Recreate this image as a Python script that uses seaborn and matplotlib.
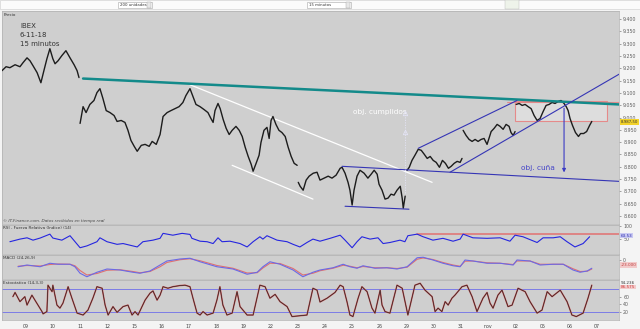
import numpy as np
import pandas as pd
import matplotlib
matplotlib.use("Agg")
import matplotlib.pyplot as plt
import matplotlib.transforms as mtrans
from matplotlib.patches import Rectangle
import seaborn as sns

sns.set_style("white")
plt.rcParams["font.family"] = ["DejaVu Sans"]

# ---------------- data (x = trading-day index, 0 = 09 oct) ----------------
day_labels = ["09", "10", "11", "12", "15", "16", "17", "18", "19", "22", "23",
              "24", "25", "26", "29", "30", "31", "nov", "02", "05", "06", "07"]
price_ticks = list(range(8600, 9401, 50))
session_breaks = [2.0, 10.0, 14.0, 16.06, 18.01]

price_day = [
    -0.87, -0.72, -0.58, -0.39, -0.21, -0.10, 0.05, 0.16, 0.27, 0.42, 0.56, 0.67, 0.78, 0.89, 1.00, 1.08, 1.19, 1.33, 1.48, 1.63, 1.78, 1.89, 1.96,
    2.00, 2.11, 2.22, 2.36, 2.51, 2.62, 2.73, 2.84, 2.96, 3.10,
    3.25, 3.36, 3.51, 3.65, 3.76, 3.87, 3.99, 4.10, 4.25, 4.39,
    4.54, 4.65, 4.80, 4.94, 5.05, 5.20, 5.34, 5.49, 5.64, 5.78,
    5.89, 6.04, 6.15, 6.26, 6.41, 6.56, 6.70, 6.81, 6.89, 6.96,
    7.07, 7.15, 7.26, 7.37, 7.48, 7.59, 7.73, 7.85, 7.96, 8.07,
    8.18, 8.29, 8.36, 8.47, 8.58, 8.65, 8.76, 8.87, 8.95, 9.02,
    9.09, 9.20, 9.31, 9.42, 9.54, 9.65, 9.76, 9.87, 9.98,
    10.02, 10.09, 10.20, 10.31, 10.42, 10.57, 10.71, 10.82, 10.97, 11.12,
    11.26, 11.41, 11.56, 11.63, 11.74, 11.85, 11.92, 12.00, 12.07, 12.18,
    12.29, 12.44, 12.58, 12.70, 12.81, 12.92, 12.99, 13.10, 13.21, 13.32,
    13.43, 13.54, 13.65, 13.77, 13.84, 13.88, 13.95,
    14.02, 14.10, 14.20, 14.31, 14.43, 14.54, 14.65, 14.76, 14.87, 14.98,
    15.09, 15.21, 15.32, 15.43, 15.54, 15.64, 15.75, 15.86, 15.97, 16.04,
    16.08, 16.19, 16.30, 16.41, 16.52, 16.63, 16.74, 16.85, 16.96, 17.03,
    17.11, 17.22, 17.33, 17.44, 17.55, 17.66, 17.77, 17.84, 17.92, 17.99,
    18.03, 18.14, 18.25, 18.36, 18.47, 18.58, 18.69, 18.80, 18.91, 19.02,
    19.13, 19.24, 19.35, 19.46, 19.57, 19.68, 19.79, 19.87, 19.94, 20.01,
    20.10, 20.21, 20.32, 20.40, 20.51, 20.62, 20.73, 20.81]
price_val = [
    9190, 9206, 9202, 9214, 9206, 9222, 9242, 9230, 9210, 9182, 9141, 9190, 9238, 9279, 9238, 9218, 9230, 9251, 9271, 9242, 9214, 9190, 9162,
    8976, 9044, 9020, 9053, 9069, 9101, 9117, 9077, 9028, 9020,
    9008, 8984, 8988, 8980, 8948, 8907, 8883, 8863, 8887, 8891,
    8883, 8903, 8891, 8931, 9004, 9020, 9028, 9036, 9044, 9061,
    9089, 9117, 9085, 9053, 9044, 9032, 9020, 8996, 8980, 9028,
    9057, 9036, 8992, 8956, 8931, 8948, 8964, 8948, 8923, 8879,
    8842, 8810, 8782, 8814, 8847, 8899, 8948, 8960, 8915, 8988,
    9004, 8972, 8948, 8939, 8923, 8879, 8842, 8814, 8806,
    8737, 8721, 8705, 8746, 8762, 8774, 8778, 8746, 8754, 8762,
    8754, 8766, 8794, 8798, 8774, 8737, 8705, 8645, 8705, 8762,
    8786, 8774, 8754, 8770, 8786, 8770, 8729, 8705, 8669, 8673,
    8689, 8685, 8705, 8721, 8673, 8632, 8681,
    8786, 8798, 8826, 8847, 8871, 8867, 8851, 8834, 8842, 8826,
    8818, 8798, 8826, 8814, 8794, 8802, 8814, 8822, 8818, 8834,
    8948, 8927, 8911, 8903, 8911, 8903, 8911, 8915, 8891, 8915,
    8943, 8956, 8972, 8964, 8952, 8972, 8964, 8939, 8927, 8943,
    9053, 9057, 9049, 9053, 9044, 9036, 9008, 8988, 8996, 9024,
    9049, 9053, 9061, 9057, 9065, 9069, 9057, 9044, 9028, 8996,
    8968, 8939, 8923, 8935, 8935, 8943, 8968, 8984]

rsi_day = [-0.58, -0.21, 0.05, 0.27, 0.53, 0.89, 1.00, 1.33, 1.63, 2.00, 2.25, 2.62, 2.73, 2.99, 3.36, 3.58,
           4.10, 4.31, 4.68, 4.94, 5.05, 5.41, 5.75, 6.04, 6.11, 6.41, 6.67, 6.89, 7.07, 7.22, 7.51, 7.88,
           8.14, 8.36, 8.61, 8.72, 8.87, 9.24, 9.61, 9.83, 10.08, 10.34, 10.56, 10.82, 11.19, 11.56, 11.74,
           12.00, 12.18, 12.36, 12.66, 12.95, 13.14, 13.39, 13.76, 13.94, 14.05, 14.39, 14.61, 14.97, 15.34,
           15.71, 15.97, 16.08, 16.44, 16.96, 17.44, 17.80, 17.99, 18.28, 18.80, 19.02, 19.39, 19.65, 19.90,
           20.19, 20.49, 20.73]
rsi_val = [40, 50, 55, 46, 54, 69, 54, 46, 63, 17, 24, 40, 55, 40, 30, 33,
           20, 40, 46, 53, 72, 65, 72, 68, 53, 42, 40, 33, 55, 40, 42, 33,
           20, 40, 59, 50, 63, 46, 40, 30, 20, 37, 50, 42, 53, 65, 46,
           17, 40, 59, 50, 55, 33, 37, 46, 40, 63, 69, 59, 46, 53,
           42, 50, 69, 55, 53, 55, 42, 65, 59, 37, 55, 55, 59, 40,
           20, 33, 59]
rsi_level = 70

macd_day = [-0.28, 0.05, 0.53, 0.89, 1.19, 1.63, 1.81, 2.00, 2.25, 2.62, 2.99, 3.47, 3.94, 4.20, 4.57,
            4.94, 5.19, 5.67, 6.04, 6.41, 7.03, 7.62, 8.14, 8.51, 8.72, 8.98, 9.35, 9.83, 10.19, 10.56,
            10.82, 11.30, 11.67, 11.92, 12.18, 12.40, 12.84, 13.28, 13.65, 14.02, 14.39, 14.61, 14.97,
            15.34, 15.71, 15.97, 16.15, 16.44, 16.96, 17.44, 17.92, 18.06, 18.54, 18.91, 19.39, 19.76,
            20.12, 20.38, 20.64, 20.81]
macd_val = [-27, -20, -27, -13, -17, -17, -27, -53, -67, -49, -36, -40, -49, -53, -44,
            -20, -4, 4, 7, -7, -27, -36, -57, -49, -27, -7, -17, -40, -67, -49,
            -40, -31, -17, -27, -33, -23, -33, -31, -36, -27, 9, 11, 0,
            -13, -23, -27, 0, -4, -13, -13, -20, 0, -4, -20, -17, -17,
            -40, -49, -44, -33]
signal_val = [-25, -22, -24, -18, -16, -17, -23, -42, -60, -54, -41, -39, -46, -51, -46,
              -27, -10, 1, 5, -3, -22, -33, -52, -51, -32, -13, -14, -34, -60, -53,
              -43, -33, -21, -25, -31, -26, -31, -31, -34, -29, 3, 8, 2,
              -10, -20, -25, -5, -4, -11, -13, -18, -4, -4, -17, -17, -17,
              -35, -46, -45, -36]

stoch_day = [-0.47, -0.39, -0.21, -0.03, 0.05, 0.23, 0.34, 0.60, 0.64, 0.78,
             0.82, 0.97, 1.00, 1.15, 1.26, 1.37, 1.56, 1.70, 1.89, 2.11,
             2.29, 2.47, 2.62, 2.81, 2.92, 3.03, 3.21, 3.36, 3.58, 3.76,
             3.91, 4.02, 4.13, 4.39, 4.57, 4.68, 4.83, 4.94, 5.05, 5.23,
             5.41, 5.67, 5.86, 6.04, 6.15, 6.30, 6.41, 6.52, 6.67, 6.89,
             7.03, 7.14, 7.25, 7.40, 7.59, 7.77, 7.88, 8.14, 8.36, 8.61,
             8.80, 8.98, 9.17, 9.35, 9.61, 9.79, 10.08, 10.34, 10.56, 10.71,
             10.82, 11.08, 11.37, 11.56, 11.67, 11.81, 11.92, 12.03, 12.22, 12.36,
             12.55, 12.73, 12.84, 13.03, 13.10, 13.21, 13.39, 13.65, 13.84, 14.05,
             14.31, 14.50, 14.68, 14.94, 15.05, 15.16, 15.30, 15.42, 15.53, 15.67,
             15.78, 16.04, 16.22, 16.41, 16.59, 16.81, 16.96, 17.07, 17.18, 17.36,
             17.51, 17.62, 17.73, 17.88, 18.10, 18.36, 18.54, 18.80, 18.98, 19.17,
             19.35, 19.65, 19.90, 20.08, 20.24, 20.49, 20.67, 20.81]
stoch_val = [60, 71, 47, 60, 38, 64, 51, 21, 15, 21,
             90, 73, 90, 38, 30, 43, 86, 56, 17, 12,
             25, 56, 86, 82, 38, 12, 34, 19, 34, 38,
             12, 21, 12, 51, 69, 75, 51, 64, 86, 82,
             86, 89, 90, 86, 56, 17, 12, 21, 12, 17,
             51, 86, 38, 12, 17, 73, 34, 12, 12, 90,
             86, 56, 66, 47, 34, 8, 10, 12, 82, 77,
             46, 56, 71, 90, 86, 47, 12, 8, 56, 86,
             73, 30, 17, 77, 38, 21, 17, 90, 82, 12,
             90, 95, 77, 60, 21, 30, 21, 47, 38, 56,
             64, 86, 90, 60, 21, 56, 71, 43, 30, 64,
             77, 56, 34, 38, 82, 73, 47, 17, 25, 73,
             60, 77, 47, 12, 8, 17, 56, 90]
stoch_levels = [20, 80]

# drawn trend lines (day, price)
teal_day, teal_val = [2.11, 21.81], [9158, 9053]
white_up_day, white_up_val = [6.04, 14.94], [9133, 8737]
white_lo_day, white_lo_val = [7.59, 10.56], [8806, 8669]
wedge_day, wedge_val = [11.63, 21.81], [8802, 8741]
flag_lo_day, flag_lo_val = [11.74, 14.09], [8640, 8628]
chan_up_day, chan_up_val = [14.43, 18.06], [8875, 9069]
chan_lo_day, chan_lo_val = [15.60, 21.85], [8778, 9178]
box_day, box_val = [17.99, 21.37], [8984, 9065]
box_top_day = [17.70, 21.81]
target_up_day, target_up_val = 13.94, [8693, 8943, 9020]
target_dn_day, target_dn_val = 19.79, [9049, 8766]
last_price, last_rsi, last_macd = 8987, 63.53, -23.0

# ---------------- figure ----------------
W, H = 640, 329
fig = plt.figure(figsize=(6.4, 3.29), dpi=100, facecolor="#f4f4f4")


def rect(x0, y0, x1, y1):
    return [x0 / W, 1 - y1 / H, (x1 - x0) / W, (y1 - y0) / H]


BG = "#cfcfcf"
ax_p = fig.add_axes(rect(2, 11, 619, 224))
ax_r = fig.add_axes(rect(2, 225, 619, 254), sharex=ax_p)
ax_m = fig.add_axes(rect(2, 255, 619, 279), sharex=ax_p)
ax_s = fig.add_axes(rect(2, 280, 619, 320), sharex=ax_p)

for ax in (ax_p, ax_r, ax_m, ax_s):
    ax.set_facecolor(BG)
    for sp in ax.spines.values():
        sp.set_color("#b0b0b0")
        sp.set_linewidth(0.5)
    ax.yaxis.tick_right()
    ax.tick_params(axis="y", labelsize=3.4, colors="#606060", length=1.5, width=0.4, pad=1.5)
    ax.tick_params(axis="x", length=0, labelbottom=False)

# ---- price panel ----
pdf = pd.DataFrame({"day": price_day, "price": price_val})
pdf["session"] = np.searchsorted(session_breaks, pdf["day"], side="right")

ax_p.add_patch(Rectangle((box_day[0], box_val[0]), box_day[1] - box_day[0], box_val[1] - box_val[0],
                         facecolor="#dddddd", edgecolor="#e58a8a", lw=0.8, zorder=1))
ax_p.plot(box_top_day, [box_val[1] - 3] * 2, color="#e58a8a", lw=0.8, zorder=1)

sns.lineplot(data=pdf, x="day", y="price", units="session", estimator=None,
             color="#1c1c1c", lw=1.0, ax=ax_p, legend=False, zorder=3)

ax_p.plot(teal_day, teal_val, color="#138a8a", lw=1.8, zorder=4)
ax_p.plot(white_up_day, white_up_val, color="white", lw=0.9, zorder=2)
ax_p.plot(white_lo_day, white_lo_val, color="white", lw=0.9, zorder=2)
for d, v in ((wedge_day, wedge_val), (flag_lo_day, flag_lo_val),
             (chan_up_day, chan_up_val), (chan_lo_day, chan_lo_val)):
    ax_p.plot(d, v, color="#3535b5", lw=0.8, zorder=4)

# dotted target arrow (obj. cumplidos)
ax_p.plot([target_up_day] * 2, [target_up_val[0], target_up_val[2]], color="#e4e4f6",
          lw=0.6, ls=(0, (1.5, 1.5)), zorder=4)
ax_p.plot([target_up_day] * 2, target_up_val[1:], ls="none", marker="^", ms=3.2,
          mfc="none", mec="#e4e4f6", mew=0.6, zorder=5)
ax_p.text(12.03, 9022, "obj. cumplidos", fontsize=5.3, color="white", va="center", ha="left")

# solid target arrow (obj. cuña)
ax_p.annotate("", xy=(target_dn_day, target_dn_val[1]), xytext=(target_dn_day, target_dn_val[0]),
              arrowprops=dict(arrowstyle="-|>", color="#3a3ac4", lw=0.8, mutation_scale=5), zorder=5)
ax_p.text(18.21, 8794, "obj. cuña", fontsize=5.3, color="#4545c8", va="center", ha="left")

ax_p.text(0.029, 0.93, "IBEX", transform=ax_p.transAxes, fontsize=5, color="#333333", va="center")
ax_p.text(0.029, 0.887, "6-11-18", transform=ax_p.transAxes, fontsize=5, color="#333333", va="center")
ax_p.text(0.029, 0.845, "15 minutos", transform=ax_p.transAxes, fontsize=5, color="#333333", va="center")
ax_p.text(0.002, 0.99, "Precio", transform=ax_p.transAxes, fontsize=3, color="#333333", va="top")
ax_p.text(0.002, 0.005, "© IT-Finance.com. Datos recibidos en tiempo real", transform=ax_p.transAxes,
          fontsize=3, color="#444444", va="bottom", style="italic")

ax_p.set_ylim(8568, 9432)
ax_p.set_yticks(price_ticks)
ax_p.set_yticklabels([f"{v // 1000}.{v % 1000:03d}" for v in price_ticks])
tr_p = mtrans.blended_transform_factory(ax_p.transAxes, ax_p.transData)
ax_p.text(1.003, last_price - 6, "8.987,50", transform=tr_p, fontsize=2.8, color="#333333",
          va="center", ha="left", bbox=dict(fc="#f2d22a", ec="none", pad=0.5), clip_on=False)

# ---- RSI panel ----
sns.lineplot(x=rsi_day, y=rsi_val, color="#2525e0", lw=0.8, ax=ax_r, estimator=None)
ax_r.plot([14.39, 21.81], [rsi_level, rsi_level], color="#e07878", lw=1.2, zorder=1)
ax_r.set_ylim(-7, 104)
ax_r.set_yticks([50, 100])
ax_r.set_yticklabels(["50", "100"])
tr_r = mtrans.blended_transform_factory(ax_r.transAxes, ax_r.transData)
ax_r.text(1.003, last_rsi, f"{last_rsi:.2f}", transform=tr_r, fontsize=3.0, color="#3030b0",
          va="center", ha="left", bbox=dict(fc="#c9c9f2", ec="none", pad=0.5), clip_on=False)
ax_r.text(0.002, 0.96, "RSI - Fuerza Relativa (Indice) (14)", transform=ax_r.transAxes,
          fontsize=3, color="#333333", va="top")

# ---- MACD panel ----
sns.lineplot(x=macd_day, y=signal_val, color="#e07070", lw=0.8, ax=ax_m, estimator=None)
sns.lineplot(x=macd_day, y=macd_val, color="#6a6ae6", lw=0.8, ax=ax_m, estimator=None)
ax_m.set_ylim(-76, 20)
ax_m.set_yticks([0])
ax_m.set_yticklabels(["0"])
tr_m = mtrans.blended_transform_factory(ax_m.transAxes, ax_m.transData)
ax_m.text(1.003, -20, "-23.000", transform=tr_m, fontsize=3.0, color="#c04040",
          va="center", ha="left", bbox=dict(fc="#f2caca", ec="none", pad=0.5), clip_on=False)
ax_m.text(0.002, 0.96, "MACD (24,26,9)", transform=ax_m.transAxes, fontsize=3, color="#333333", va="top")

# ---- Stochastic panel ----
for lv in stoch_levels:
    ax_s.axhline(lv, color="#7c7ce6", lw=0.7, zorder=1)
sns.lineplot(x=stoch_day, y=stoch_val, color="#d06060", lw=1.1, ax=ax_s, estimator=None)
sns.lineplot(x=stoch_day, y=stoch_val, color="#2a2020", lw=0.5, ax=ax_s, estimator=None)
ax_s.set_ylim(-1, 103.5)
ax_s.set_yticks([20, 40, 60])
ax_s.set_yticklabels(["20", "40", "60"])
tr_s = mtrans.blended_transform_factory(ax_s.transAxes, ax_s.transData)
ax_s.text(1.003, 96, "94.236", transform=tr_s, fontsize=3.0, color="#333333", va="center", ha="left",
          clip_on=False)
ax_s.text(1.003, 85, "86.575", transform=tr_s, fontsize=3.0, color="#d04040", va="center", ha="left",
          bbox=dict(fc="#f2caca", ec="none", pad=0.3), clip_on=False)
ax_s.text(0.002, 0.97, "Estocástico (14,3,3)", transform=ax_s.transAxes, fontsize=3, color="#333333", va="top")
ax_s.set_xticks(range(len(day_labels)))
ax_s.set_xticklabels(day_labels)
ax_s.tick_params(axis="x", labelbottom=True, labelsize=3.4, colors="#444444", length=1.5, width=0.4, pad=1.5)
for ax in (ax_p, ax_r, ax_m, ax_s):
    ax.set_xlabel("")
    ax.set_ylabel("")
ax_p.set_xlim(-0.87, 21.81)

# ---- top toolbar ----
fig.patches.append(Rectangle((0, 1 - 9 / H), 1, 9 / H, transform=fig.transFigure,
                             facecolor="#fbfbfb", edgecolor="#d5d5d5", lw=0.5))
for x0, x1, label in ((118, 152, "200 unidades"), (307, 351, "15 minutos")):
    fig.patches.append(Rectangle((x0 / W, 1 - 8 / H), (x1 - x0) / W, 6.5 / H, transform=fig.transFigure,
                                 facecolor="white", edgecolor="#a8a8a8", lw=0.4))
    fig.patches.append(Rectangle(((x1 - 5) / W, 1 - 7.5 / H), 4 / W, 5.5 / H, transform=fig.transFigure,
                                 facecolor="#e8e8e8", edgecolor="#a8a8a8", lw=0.3))
    fig.text((x0 + 2) / W, 1 - 4.8 / H, label, fontsize=2.8, color="#333333", va="center")
fig.patches.append(Rectangle((505 / W, 1 - 8.5 / H), 14 / W, 8 / H, transform=fig.transFigure,
                             facecolor="#eef3ea", edgecolor="#b8b8b8", lw=0.3))

fig.savefig("out.png", dpi=100, facecolor=fig.get_facecolor())
